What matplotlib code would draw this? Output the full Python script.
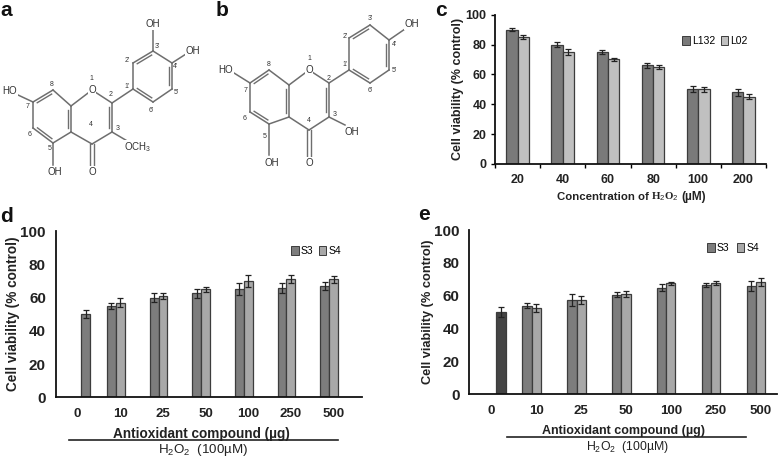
import numpy as np
import matplotlib
matplotlib.use("Agg")
import matplotlib.pyplot as plt
from matplotlib.patches import Patch

plt.rcParams['font.family'] = ['Liberation Sans', 'DejaVu Sans']
plt.rcParams['mathtext.fontset'] = 'custom'
plt.rcParams['mathtext.rm'] = 'Liberation Sans'
plt.rcParams['mathtext.bf'] = 'Liberation Sans:bold'

W, H = 778, 459

# panel c
conc_labels = ['20', '40', '60', '80', '100', '200']
l132 = [90, 80, 75, 66, 50, 48]
l02 = [85, 75, 70, 65, 50, 45]
l132_err = [1, 1.5, 1.5, 1.5, 2, 2.2]
l02_err = [1.5, 2, 1, 1.5, 1.5, 1.7]

# panel d / e share the dose labels, first dose has S3 only
dose_labels = ['0', '10', '25', '50', '100', '250', '500']
d_s3 = [50, 55, 60, 62.5, 65, 66, 67]
d_s4 = [57, 61, 65, 70, 71, 71]
d_s3_err = [2.5, 2, 2.5, 2.5, 3.5, 3, 2.5]
d_s4_err = [2.5, 2, 1.5, 3.5, 2.5, 2]
e_s3 = [50, 54, 57.5, 60.5, 65, 66.5, 66]
e_s4 = [52.5, 57.5, 61, 67.5, 68, 68.5]
e_s3_err = [3, 1.5, 3.5, 1.5, 2.2, 1.2, 3]
e_s4_err = [2.5, 2.5, 2, 1, 1.2, 2.5]

# molecule drawings in figure pixels
atoms_a = {'c8': (53, 90), 'c7': (33, 102), 'c6': (33, 128), 'c5': (53, 143), 'c4a': (71, 132),
           'c8a': (71, 106), 'o1': (92, 90), 'c2': (112, 103), 'c3': (112, 132), 'c4': (92, 144),
           'o4': (92, 166), 'c1p': (133, 89), 'c2p': (133, 63), 'c3p': (153, 51), 'c4p': (172, 63),
           'c5p': (172, 89), 'c6p': (153, 102), 'oh3p': (153, 30), 'oh4p': (186, 54),
           'ho7': (18, 95), 'oh5': (53, 165), 'och3': (129, 142)}
bonds_a = [('c8', 'c7'), ('c7', 'c6'), ('c6', 'c5'), ('c5', 'c4a'), ('c4a', 'c8a'), ('c8a', 'c8'),
           ('c8a', 'o1'), ('o1', 'c2'), ('c2', 'c3'), ('c3', 'c4'), ('c4', 'c4a'), ('c2', 'c1p'),
           ('c1p', 'c2p'), ('c2p', 'c3p'), ('c3p', 'c4p'), ('c4p', 'c5p'), ('c5p', 'c6p'),
           ('c6p', 'c1p'), ('c3p', 'oh3p'), ('c4p', 'oh4p'), ('c7', 'ho7'), ('c5', 'oh5'),
           ('c3', 'och3')]
doubles_a = [('c8', 'c7', 'c4a'), ('c6', 'c5', 'c8a'), ('c4a', 'c8a', 'c7'), ('c2', 'c3', 'c4a'),
             ('c2p', 'c3p', 'c5p'), ('c4p', 'c5p', 'c2p'), ('c6p', 'c1p', 'c3p')]
carbonyl_a = ('c4', 'o4')
labels_a = [('OH', 153, 24, 7), ('OH', 193, 51, 7), ('HO', 10, 91, 7), ('OH', 55, 172, 7),
            ('O', 92, 172, 7), ('O', 92, 90, 7), ('OCH$_3$', 138, 147, 7),
            ('1', 91, 78, 5), ('2', 111, 95, 5), ('3', 118, 129, 5), ('4', 91, 124, 5),
            ('5', 50, 149, 5), ('6', 30, 134, 5), ('7', 28, 106, 5), ('8', 52, 85, 5),
            ("1'", 127, 86, 5), ("2'", 127, 61, 5), ("3'", 157, 46, 5), ("4'", 175, 66, 5),
            ("5'", 176, 93, 5), ("6'", 151, 111, 5)]

atoms_b = {'c8': (269, 70), 'c7': (250, 83), 'c6': (250, 112), 'c5': (269, 124), 'c4a': (289, 117),
           'c8a': (289, 85), 'o1': (309, 70), 'c2': (329, 83), 'c3': (329, 117), 'c4': (309, 130),
           'o4': (309, 157), 'c1p': (349, 70), 'c2p': (349, 38), 'c3p': (370, 25), 'c4p': (389, 40),
           'c5p': (389, 70), 'c6p': (370, 83), 'oh4p': (405, 29), 'ho7': (234, 73),
           'oh5': (269, 155), 'oh3': (345, 125)}
bonds_b = [('c8', 'c7'), ('c7', 'c6'), ('c6', 'c5'), ('c5', 'c4a'), ('c4a', 'c8a'), ('c8a', 'c8'),
           ('c8a', 'o1'), ('o1', 'c2'), ('c2', 'c3'), ('c3', 'c4'), ('c4', 'c4a'), ('c2', 'c1p'),
           ('c1p', 'c2p'), ('c2p', 'c3p'), ('c3p', 'c4p'), ('c4p', 'c5p'), ('c5p', 'c6p'),
           ('c6p', 'c1p'), ('c4p', 'oh4p'), ('c7', 'ho7'), ('c5', 'oh5'), ('c3', 'oh3')]
doubles_b = [('c8', 'c7', 'c4a'), ('c6', 'c5', 'c8a'), ('c4a', 'c8a', 'c7'), ('c2', 'c3', 'c4a'),
             ('c2p', 'c3p', 'c5p'), ('c4p', 'c5p', 'c2p'), ('c6p', 'c1p', 'c3p')]
carbonyl_b = ('c4', 'o4')
labels_b = [('OH', 412, 24, 7), ('HO', 226, 70, 7), ('OH', 272, 163, 7), ('OH', 352, 132, 7),
            ('O', 309, 163, 7), ('O', 309, 70, 7),
            ('1', 309, 59, 5), ('2', 329, 78, 5), ('3', 335, 114, 5), ('4', 309, 121, 5),
            ('5', 265, 136, 5), ('6', 245, 119, 5), ('7', 246, 90, 5), ('8', 269, 64, 5),
            ("1'", 345, 65, 5), ("2'", 345, 36, 5), ("3'", 370, 18, 5), ("4'", 394, 44, 5),
            ("5'", 394, 70, 5), ("6'", 370, 91, 5)]


def axes_px(fig, left, top, right, bottom):
    return fig.add_axes([left / W, 1 - bottom / H, (right - left) / W, (bottom - top) / H])


def draw_molecule(ov, atoms, bonds, doubles, carbonyl, labels):
    col = '#6e6e6e'
    for a, b in bonds:
        ov.plot(*zip(atoms[a], atoms[b]), color=col, lw=1.1, zorder=2)
    for a, b, toward in doubles:
        p, q, t = np.array(atoms[a]), np.array(atoms[b]), np.array(atoms[toward])
        d = q - p
        n = np.array([-d[1], d[0]]) / np.hypot(*d)
        if np.dot(n, t - p) < 0:
            n = -n
        p2 = p + 0.14 * d + 2.8 * n
        q2 = q - 0.14 * d + 2.8 * n
        ov.plot([p2[0], q2[0]], [p2[1], q2[1]], color=col, lw=1.0, zorder=2)
    p, q = np.array(atoms[carbonyl[0]], float), np.array(atoms[carbonyl[1]], float)
    for dx in (-1.6, 1.6):
        ov.plot([p[0] + dx, q[0] + dx], [p[1], q[1]], color=col, lw=1.0, zorder=2)
    for s, x, y, size in labels:
        white = size > 5
        ov.text(x, y, s, fontsize=size, ha='center', va='center', color='#333333', zorder=3,
                bbox=dict(fc='white', ec='none', pad=0.4) if white else None)


def style_axes(ax):
    for side in ('top', 'right'):
        ax.spines[side].set_visible(False)
    for side in ('left', 'bottom'):
        ax.spines[side].set_linewidth(1.3)
        ax.spines[side].set_color('#111111')
    ax.set_ylim(0, 100)
    ax.set_yticks(range(0, 101, 20))


def bars(ax, x, y, err, color, width):
    ax.bar(x, y, width, color=color, edgecolor='#3c3c3c', linewidth=0.9, zorder=2)
    ax.errorbar(x, y, yerr=err, fmt='none', ecolor='#222222', elinewidth=0.9,
                capsize=2.2, capthick=0.9, zorder=3)


def dose_panel(fig, box, s3, s4, s3_err, s4_err, xlim, group_shift, first_shift, first_color, ylab_x, ylab_fs):
    ax = axes_px(fig, *box)
    style_axes(ax)
    x = np.arange(len(dose_labels), dtype=float)
    w = 0.205
    bars(ax, [x[0] + first_shift], s3[:1], s3_err[:1], first_color, w)
    bars(ax, x[1:] + group_shift - w / 2, s3[1:], s3_err[1:], '#7d7d7d', w)
    bars(ax, x[1:] + group_shift + w / 2, s4, s4_err, '#a8a8a8', w)
    ax.set_xlim(*xlim)
    ax.set_xticks(x)
    ax.set_xticklabels(dose_labels, fontsize=9.5, fontweight='bold', color='#222222')
    ax.tick_params(axis='x', length=0, pad=8)
    ax.tick_params(axis='y', length=0, pad=7, labelsize=11, labelcolor='#222222')
    for t in ax.get_yticklabels():
        t.set_fontweight('bold')
    ax.set_ylabel('Cell viability (% control)', fontsize=ylab_fs, fontweight='bold', color='#222222', va='center')
    ax.yaxis.set_label_coords((ylab_x - box[0]) / (box[2] - box[0]), 0.5)
    return ax


def legend_px(fig, names, colors, x, y, gap):
    handles = [Patch(facecolor=c, edgecolor='#3c3c3c', linewidth=0.7) for c in colors]
    fig.legend(handles, names, loc='center', bbox_to_anchor=(x / W, 1 - y / H), ncol=2, frameon=False,
               fontsize=7.5, handlelength=0.75, handleheight=0.9, handletextpad=0.2,
               columnspacing=gap, borderpad=0)


def run():
    fig = plt.figure(figsize=(W / 100, H / 100), dpi=100)

    ov = fig.add_axes([0, 0, 1, 1], zorder=5)
    ov.set_xlim(0, W)
    ov.set_ylim(H, 0)
    ov.axis('off')
    ov.patch.set_alpha(0)

    draw_molecule(ov, atoms_a, bonds_a, doubles_a, carbonyl_a, labels_a)
    draw_molecule(ov, atoms_b, bonds_b, doubles_b, carbonyl_b, labels_b)

    for s, x, y in [('a', 6, 10), ('b', 222, 10), ('c', 441, 10), ('d', 7, 216), ('e', 424, 215)]:
        ov.text(x, y, s, fontsize=15, fontweight='bold', ha='center', va='center', color='#111111')

    # panel c
    ax = axes_px(fig, 495, 14.7, 766, 164)
    style_axes(ax)
    x = np.arange(len(conc_labels), dtype=float)
    w = 0.25
    bars(ax, x - w / 2, l132, l132_err, '#7a7a7a', w)
    bars(ax, x + w / 2, l02, l02_err, '#c0c0c0', w)
    ax.set_xlim(-0.5, 5.5)
    ax.set_xticks(x)
    ax.set_xticklabels(conc_labels, fontsize=9, fontweight='bold', color='#222222')
    ax.set_xticks(np.arange(-0.5, 5.6, 1), minor=True)
    ax.tick_params(axis='x', which='major', length=0, pad=7)
    ax.tick_params(axis='x', which='minor', length=3, width=1, direction='out')
    ax.tick_params(axis='y', length=3, width=1, pad=3, labelsize=9, labelcolor='#222222')
    for t in ax.get_yticklabels():
        t.set_fontweight('bold')
    ax.set_ylabel('Cell viability (% control)', fontsize=9, fontweight='bold', color='#222222', va='center')
    ax.yaxis.set_label_coords((458 - 495) / (766 - 495), 0.5)
    ov.text(649, 197, 'Concentration of', fontsize=8.2, fontweight='bold', ha='right', va='center', color='#222222')
    ov.text(651, 197, r'H$_2$O$_2$', fontsize=7.8, fontweight='bold', family='Liberation Serif',
            ha='left', va='center', color='#222222')
    ov.text(694, 197, '(µM)', fontsize=8.5, fontweight='bold', ha='center', va='center', color='#222222')
    legend_px(fig, ['L132', 'L02'], ['#7a7a7a', '#c0c0c0'], 715, 41, 0.5)

    # panel d
    dose_panel(fig, (55.7, 231, 362, 397.3), d_s3, d_s4, d_s3_err, d_s4_err, (-0.51, 6.67),
               -0.1, 0.19, '#7d7d7d', 13, 9.8)
    legend_px(fig, ['S3', 'S4'], ['#7d7d7d', '#a8a8a8'], 316, 251, 0.5)
    ov.text(201, 434, 'Antioxidant compound (µg)', fontsize=9.8, fontweight='bold', ha='center', va='center', color='#222222')
    ov.plot([69, 338], [440, 440], color='#222222', lw=1.2)
    ov.text(203, 450, r'H$_2$O$_2$  (100µM)', fontsize=9.6, ha='center', va='center', color='#222222')

    # panel e
    dose_panel(fig, (469.3, 230, 777, 394.3), e_s3, e_s4, e_s3_err, e_s4_err, (-0.49, 6.37),
               -0.1, 0.215, '#444444', 428, 9.2)
    legend_px(fig, ['S3', 'S4'], ['#7d7d7d', '#a8a8a8'], 733, 248, 0.7)
    ov.text(624, 431, 'Antioxidant compound (µg)', fontsize=9.0, fontweight='bold', ha='center', va='center', color='#222222')
    ov.plot([507, 746], [437, 437], color='#222222', lw=1.2)
    ov.text(627, 447, r'H$_2$O$_2$  (100µM)', fontsize=8.8, ha='center', va='center', color='#222222')

    fig.savefig('out.png', dpi=100)
    return 0


run()
